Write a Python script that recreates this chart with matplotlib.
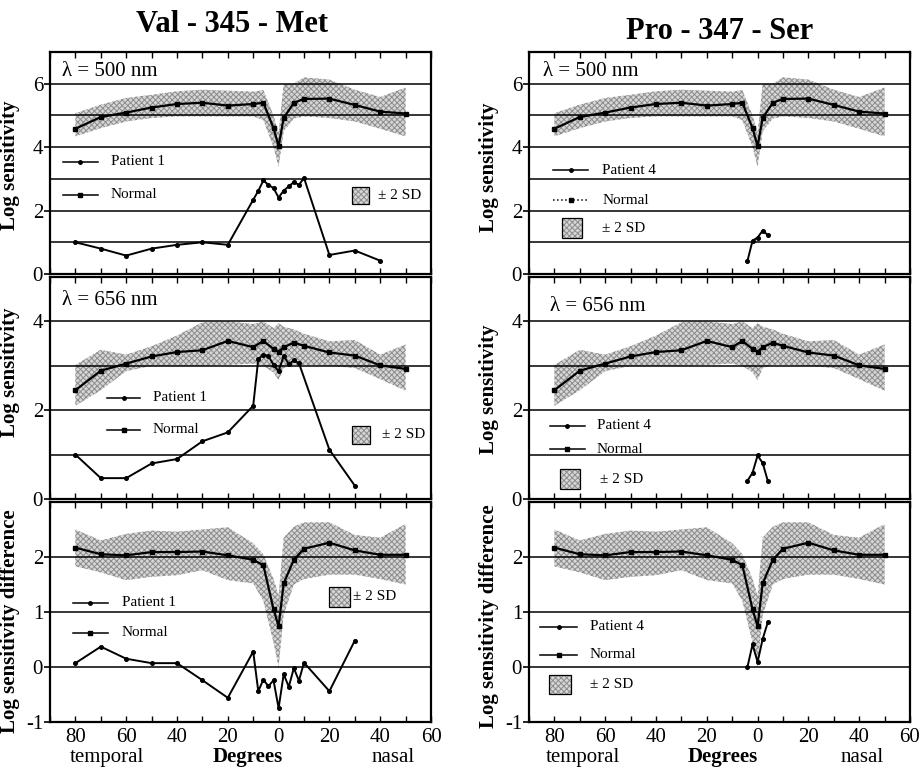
import matplotlib
matplotlib.use("Agg")
import matplotlib.pyplot as plt
from matplotlib.patches import Rectangle
from matplotlib.ticker import MultipleLocator, FuncFormatter

plt.rcParams['font.family'] = ['Liberation Serif', 'DejaVu Serif']
plt.rcParams['hatch.linewidth'] = 0.7
plt.rcParams['axes.unicode_minus'] = False

# eccentricity in degrees: negative = temporal, positive = nasal
norm_x = [-80, -70, -60, -50, -40, -30, -20, -10, -6, -2, 0, 2, 6, 10, 20, 30, 40, 50]

# normal observers, 500 nm
norm_500 = [4.58, 4.95, 5.09, 5.25, 5.36, 5.40, 5.31, 5.36, 5.40, 4.60, 4.03, 4.92, 5.40, 5.52, 5.53, 5.33, 5.12, 5.06]
hi_500 = [5.07, 5.34, 5.55, 5.65, 5.76, 5.81, 5.78, 5.75, 5.80, 5.00, 4.45, 6.00, 6.00, 6.20, 6.13, 5.81, 5.58, 5.88]
lo_500 = [4.34, 4.60, 4.81, 4.92, 4.97, 4.97, 4.97, 4.97, 4.85, 4.00, 3.38, 4.50, 4.90, 4.97, 4.92, 4.81, 4.58, 4.34]

# normal observers, 656 nm
norm_656 = [2.45, 2.89, 3.05, 3.21, 3.31, 3.35, 3.56, 3.42, 3.56, 3.38, 3.32, 3.42, 3.52, 3.45, 3.30, 3.23, 3.01, 2.93]
hi_656 = [3.02, 3.36, 3.25, 3.44, 3.68, 3.98, 4.00, 3.94, 4.00, 3.85, 3.96, 3.88, 3.82, 3.72, 3.55, 3.58, 3.25, 3.48]
lo_656 = [2.10, 2.45, 2.88, 3.00, 3.00, 3.00, 3.02, 3.05, 3.00, 2.85, 2.68, 2.95, 3.02, 3.02, 3.00, 2.95, 2.70, 2.44]

# normal observers, 500 - 656 difference
norm_dif = [2.17, 2.05, 2.03, 2.09, 2.09, 2.10, 2.03, 1.95, 1.85, 1.05, 0.74, 1.52, 1.95, 2.15, 2.26, 2.12, 2.04, 2.04]
hi_dif = [2.50, 2.30, 2.42, 2.48, 2.46, 2.50, 2.54, 2.25, 2.05, 1.60, 1.30, 2.35, 2.55, 2.63, 2.63, 2.40, 2.35, 2.60]
lo_dif = [1.83, 1.72, 1.58, 1.64, 1.67, 1.76, 1.58, 1.52, 1.20, 0.45, 0.00, 0.95, 1.50, 1.60, 1.68, 1.68, 1.60, 1.50]

# patient 1 (Val-345-Met)
p1_x = [-80, -70, -60, -50, -40, -30, -20, -10, -8, -6, -4, -2, 0, 2, 4, 6, 8, 10, 20, 30, 40]
p1_500 = [1.00, 0.80, 0.58, 0.80, 0.92, 1.00, 0.92, 2.34, 2.62, 2.95, 2.81, 2.71, 2.41, 2.63, 2.76, 2.90, 2.81, 3.03, 0.60, 0.74, 0.42]
p1_x656 = [-80, -70, -60, -50, -40, -30, -20, -10, -8, -6, -4, -2, 0, 2, 4, 6, 8, 20, 30]
p1_656 = [1.00, 0.47, 0.47, 0.80, 0.90, 1.30, 1.50, 2.10, 3.15, 3.25, 3.22, 3.02, 2.88, 3.22, 3.04, 3.12, 3.06, 1.11, 0.30]
p1_xdif = [-80, -70, -60, -50, -40, -30, -20, -10, -8, -6, -4, -2, 0, 2, 4, 6, 8, 10, 20, 30]
p1_dif = [0.07, 0.37, 0.15, 0.07, 0.07, -0.24, -0.56, 0.28, -0.44, -0.23, -0.35, -0.24, -0.75, -0.13, -0.36, -0.02, -0.25, 0.08, -0.44, 0.48]

# patient 4 (Pro-347-Ser)
p4_x = [-4, -2, 0, 2, 4]
p4_500 = [0.41, 1.05, 1.15, 1.37, 1.23]
p4_656 = [0.41, 0.59, 0.98, 0.81, 0.41]
p4_dif = [0.00, 0.41, 0.09, 0.51, 0.81]

BAND = dict(facecolor='#d6d6d6', edgecolor='#8c8c8c', hatch='xxxxxx', linewidth=0)

fig = plt.figure(figsize=(9.19, 7.75), dpi=100)

col_left = [50 / 919, 529 / 919]
col_w = 381 / 919
rows = [(1 - 274 / 775, 222 / 775), (1 - 499 / 775, 222 / 775), (1 - 722 / 775, 220 / 775)]


def panel(ax, ylim, yticks, ny, lo, hi, px, py, bottom=False):
    ax.fill_between(norm_x, lo, hi, zorder=1, **BAND)
    ax.plot(norm_x, ny, color='k', lw=1.6, marker='s', ms=2.8, zorder=4)
    ax.plot(px, py, color='k', lw=1.4, marker='o', ms=2.6, zorder=4)
    ax.set_xlim(-90, 60)
    ax.set_ylim(*ylim)
    for v in range(int(ylim[0]) + 1, int(ylim[1])):
        ax.axhline(v, color='k', lw=1.1, zorder=3)
    ax.set_yticks(yticks)
    ax.xaxis.set_major_locator(MultipleLocator(20))
    ax.xaxis.set_minor_locator(MultipleLocator(10))
    ax.xaxis.set_major_formatter(FuncFormatter(lambda v, p: f"{abs(v):.0f}"))
    ax.tick_params(axis='x', which='both', direction='in', top=True, length=4, width=1)
    ax.tick_params(axis='y', direction='out', length=4, width=1.2, labelsize=15, pad=1)
    ax.tick_params(axis='x', labelsize=15, pad=4, labelbottom=bottom)
    for s in ax.spines.values():
        s.set_linewidth(1.6)


def keys(ax, kx, ky_pat, ky_norm, tx, pat_label, norm_dotted=False):
    ax.plot(kx, [ky_pat, ky_pat], transform=ax.transAxes, color='k', lw=1.1)
    ax.plot([sum(kx) / 2], [ky_pat], transform=ax.transAxes, color='k', marker='o', ms=2.5)
    ax.text(tx, ky_pat, pat_label, transform=ax.transAxes, va='center', fontsize=11)
    ls = ':' if norm_dotted else '-'
    ax.plot(kx, [ky_norm, ky_norm], transform=ax.transAxes, color='k', lw=1.1, ls=ls)
    ax.plot([sum(kx) / 2], [ky_norm], transform=ax.transAxes, color='k', marker='s', ms=2.8)
    ax.text(tx, ky_norm, 'Normal', transform=ax.transAxes, va='center', fontsize=11)


def sd_box(ax, x0, y0, w, h, tx):
    ax.add_patch(Rectangle((x0, y0), w, h, transform=ax.transAxes, zorder=5, **BAND))
    ax.add_patch(Rectangle((x0, y0), w, h, transform=ax.transAxes, zorder=6,
                           fill=False, edgecolor='k', lw=0.9))
    ax.text(tx, y0 + h / 2, '± 2 SD', transform=ax.transAxes, va='center', fontsize=11)


axes = {}
for c in range(2):
    for r in range(3):
        axes[(r, c)] = fig.add_axes([col_left[c], rows[r][0], col_w, rows[r][1]])

# Val-345-Met column
ax = axes[(0, 0)]
panel(ax, (0, 7), [0, 2, 4, 6], norm_500, lo_500, hi_500, p1_x, p1_500)
ax.text(0.031, 0.91, 'λ = 500 nm', transform=ax.transAxes, va='center', fontsize=15)
keys(ax, [0.034, 0.126], 0.505, 0.356, 0.16, 'Patient 1')
sd_box(ax, 0.793, 0.315, 0.044, 0.077, 0.861)
ax.set_ylabel('Log sensitivity', fontsize=15, fontweight='bold')
ax.yaxis.set_label_coords(-0.079, 0.49)

ax = axes[(1, 0)]
panel(ax, (0, 5), [0, 2, 4], norm_656, lo_656, hi_656, p1_x656, p1_656)
ax.text(0.031, 0.896, 'λ = 656 nm', transform=ax.transAxes, va='center', fontsize=15)
keys(ax, [0.15, 0.236], 0.455, 0.311, 0.27, 'Patient 1')
sd_box(ax, 0.793, 0.248, 0.047, 0.081, 0.871)
ax.set_ylabel('Log sensitivity', fontsize=15, fontweight='bold')
ax.yaxis.set_label_coords(-0.079, 0.57)

ax = axes[(2, 0)]
panel(ax, (-1, 3), [-1, 0, 1, 2], norm_dif, lo_dif, hi_dif, p1_xdif, p1_dif, bottom=True)
keys(ax, [0.06, 0.152], 0.541, 0.405, 0.189, 'Patient 1')
sd_box(ax, 0.732, 0.523, 0.055, 0.091, 0.795)
ax.set_ylabel('Log sensitivity difference', fontsize=15, fontweight='bold')
ax.yaxis.set_label_coords(-0.079, 0.46)

# Pro-347-Ser column
ax = axes[(0, 1)]
panel(ax, (0, 7), [0, 2, 4, 6], norm_500, lo_500, hi_500, p4_x, p4_500)
ax.text(0.037, 0.91, 'λ = 500 nm', transform=ax.transAxes, va='center', fontsize=15)
keys(ax, [0.063, 0.155], 0.468, 0.333, 0.192, 'Patient 4', norm_dotted=True)
sd_box(ax, 0.087, 0.162, 0.052, 0.09, 0.192)
ax.set_ylabel('Log sensitivity', fontsize=15, fontweight='bold')
ax.yaxis.set_label_coords(-0.079, 0.48)

ax = axes[(1, 1)]
panel(ax, (0, 5), [0, 2, 4], norm_656, lo_656, hi_656, p4_x, p4_656)
ax.text(0.055, 0.869, 'λ = 656 nm', transform=ax.transAxes, va='center', fontsize=15)
keys(ax, [0.055, 0.147], 0.329, 0.225, 0.178, 'Patient 4')
sd_box(ax, 0.081, 0.045, 0.053, 0.09, 0.186)
ax.set_ylabel('Log sensitivity', fontsize=15, fontweight='bold')
ax.yaxis.set_label_coords(-0.079, 0.495)

ax = axes[(2, 1)]
panel(ax, (-1, 3), [-1, 0, 1, 2], norm_dif, lo_dif, hi_dif, p4_x, p4_dif, bottom=True)
keys(ax, [0.029, 0.126], 0.432, 0.305, 0.16, 'Patient 4')
sd_box(ax, 0.052, 0.127, 0.058, 0.087, 0.16)
ax.set_ylabel('Log sensitivity difference', fontsize=15, fontweight='bold')
ax.yaxis.set_label_coords(-0.079, 0.48)

# axis captions under the bottom panels
for c, (xt, xd, xn) in enumerate([(0.15, 0.52, 0.90), (0.142, 0.509, 0.874)]):
    ax = axes[(2, c)]
    ax.text(xt, -0.16, 'temporal', transform=ax.transAxes, ha='center', va='center', fontsize=15)
    ax.text(xd, -0.16, 'Degrees', transform=ax.transAxes, ha='center', va='center',
            fontsize=15, fontweight='bold')
    ax.text(xn, -0.16, 'nasal', transform=ax.transAxes, ha='center', va='center', fontsize=15)

fig.text(0.2524, 0.968, 'Val - 345 - Met', ha='center', va='center', fontsize=22, fontweight='bold')
fig.text(0.7835, 0.959, 'Pro - 347 - Ser', ha='center', va='center', fontsize=22, fontweight='bold')

fig.savefig('out.png', dpi=100)
